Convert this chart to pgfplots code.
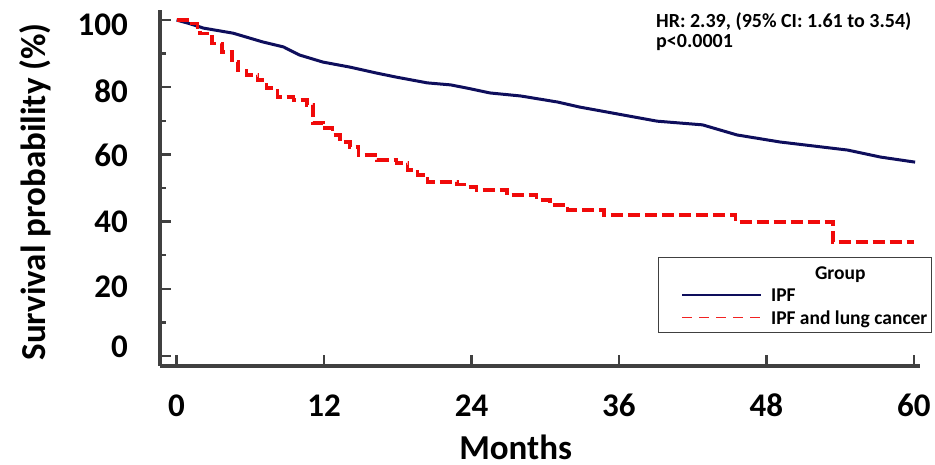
\documentclass[border=0pt]{standalone}
\usepackage{pgfplots}
\pgfplotsset{compat=1.18}
\usepackage{fontspec}
\setmainfont{Carlito}

\definecolor{ipfblue}{RGB}{14,14,92}
\definecolor{ipfred}{RGB}{240,10,10}
\definecolor{axisgray}{RGB}{64,64,64}

\begin{document}
\begin{tikzpicture}
\begin{axis}[
  scale only axis,
  width=760pt, height=356pt,
  xmin=-1.35, xmax=60.5,
  ymin=-3, ymax=103,
  enlargelimits=false,
  clip=false,
  axis x line=bottom,
  axis y line=left,
  axis line style={-, axisgray, line width=4pt},
  xtick={0,12,24,36,48,60},
  ytick={0,20,40,60,80,100},
  yticklabels={
    \raisebox{9pt}[\height][\depth]{0},
    \raisebox{2pt}[\height][\depth]{20},
    40,
    \raisebox{-1pt}[\height][\depth]{60},
    \raisebox{-3.5pt}[\height][\depth]{80},
    \raisebox{-5pt}[\height][\depth]{100}},
  minor y tick num=1,
  tick align=inside,
  major tick length=11pt,
  minor tick length=6pt,
  tick style={axisgray, line width=2.5pt},
  /pgf/number format/assume math mode=true,
  tick label style={font=\bfseries\fontsize{33}{36}\selectfont},
  xticklabel style={anchor=base, yshift=-51pt},
  yticklabel style={anchor=east, inner sep=0pt, xshift=-32pt},
  xlabel={Months},
  ylabel={Survival probability (\%)},
  label style={font=\bfseries\fontsize{35}{40}\selectfont, inner sep=0pt},
  xlabel style={at={(axis description cs:0.468,-0.2640)}, anchor=base},
  ylabel style={at={(axis description cs:-0.1645,0.489)}, anchor=center},
  legend image code/.code={
    \path (0pt,0pt);
    \draw[#1] (21pt,0pt) -- (100pt,0pt);
    \path (107pt,0pt);
  },
  legend style={
    at={(axis description cs:1.0158,0.306)}, anchor=north east,
    draw=axisgray, line width=1.3pt,
    font=\bfseries\fontsize{19.5}{22}\selectfont,
    inner xsep=2pt, inner ysep=4.5pt,
    row sep=2pt,
    cells={anchor=west, inner sep=0pt, text height=15pt, text depth=7pt},
  },
]

% IPF
\addplot[ipfblue, line width=3pt, forget plot] coordinates {
  (0,100) (1,99) (2.2,97.6) (4.6,96.1) (7.0,93.5) (8.7,92.0) (10.0,89.6)
  (11.9,87.5) (14.1,86.0) (16.3,84.2) (17.9,83.0) (20.4,81.3) (22.3,80.7)
  (23.7,79.7) (25.5,78.3) (28.0,77.4) (31.0,75.6) (32.8,74.1) (35.5,72.3)
  (39.1,69.9) (42.8,68.8) (45.6,65.8) (49.1,63.7) (54.6,61.3) (57.3,59.2)
  (60.1,57.7)
};

% IPF and lung cancer
\addplot[ipfred, line width=3.5pt, dash pattern=on 12pt off 5pt, const plot, forget plot] coordinates {
  (0,100) (1.2,99) (1.7,98) (1.9,96) (2.9,93) (3.7,90.5) (4.5,87.5)
  (5.0,85) (5.7,83.6) (6.6,82.1) (7.3,79.7) (8.2,77.1) (9.5,76.2)
  (10.6,74.7) (11.1,69.3) (11.9,67.8) (12.7,65.8) (13.3,63.7) (14.1,62.2)
  (14.8,59.8) (16.3,58.3) (17.9,57.4) (18.8,55.4) (19.6,53.9) (20.4,51.8)
  (22.8,51.0) (23.6,50.3) (24.4,49.4) (26.9,47.9) (29.3,46.4) (30.4,44.9)
  (31.8,43.5) (34.8,42.0) (45.5,39.9) (53.4,33.9) (60.0,33.9)
};

\addlegendimage{empty legend}
\addlegendentry{\hspace*{44pt}Group}
\addlegendimage{ipfblue, line width=1.6pt, solid}
\addlegendentry{IPF}
\addlegendimage{ipfred!90, line width=1.8pt, dash pattern=on 10pt off 7pt}
\addlegendentry{IPF and lung cancer}

\node[anchor=base west, inner sep=0pt, font=\bfseries\fontsize{20}{22}\selectfont]
  at (axis description cs:0.6526,0.9522) {HR: 2.39, (95\% CI: 1.61 to 3.54)};
\node[anchor=base west, inner sep=0pt, font=\bfseries\fontsize{20}{22}\selectfont]
  at (axis description cs:0.6526,0.896) {p<0.0001};

\coordinate (BL) at (rel axis cs:0,0);
\end{axis}
\pgfresetboundingbox
\path[use as bounding box] (BL) ++(-160pt,-99pt) rectangle ++(935pt,465pt);
\end{tikzpicture}
\end{document}
